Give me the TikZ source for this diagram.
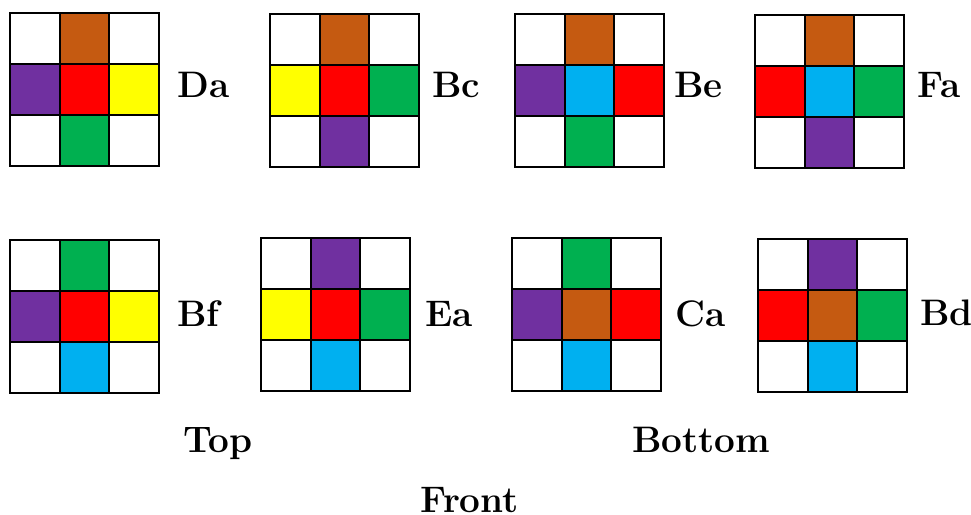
\documentclass[tikz,border=0pt]{standalone}
\usepackage{tikz}
\definecolor{cbrown}{HTML}{C55A11}
\definecolor{cpurple}{HTML}{7030A0}
\definecolor{cred}{HTML}{FF0000}
\definecolor{cyellow}{HTML}{FFFF00}
\definecolor{cgreen}{HTML}{00B050}
\definecolor{cblue}{HTML}{00B0F0}

\begin{document}
\begin{tikzpicture}[scale=0.2]
\tikzstyle{every node}+=[inner sep=0pt, anchor=base west, font=\fontsize{21}{25}\selectfont\bfseries]
\tikzstyle{cell}=[draw=black, line width=1.1pt]
\useasboundingbox (0,0) rectangle (97.1,-51.4);
% Da
\begin{scope}[shift={(1,-1.3)}]
\foreach \i in {0,1,2} \foreach \j in {0,1,2} \draw [cell,fill=white] (\i*4.97,-\j*5.1) rectangle ++(4.97,-5.1);
\draw [cell,fill=cbrown] (4.97,0) rectangle ++(4.97,-5.1);
\draw [cell,fill=cpurple] (0,-5.1) rectangle ++(4.97,-5.1);
\draw [cell,fill=cred] (4.97,-5.1) rectangle ++(4.97,-5.1);
\draw [cell,fill=cyellow] (9.94,-5.1) rectangle ++(4.97,-5.1);
\draw [cell,fill=cgreen] (4.97,-10.2) rectangle ++(4.97,-5.1);
\end{scope}
\node (da) at (17.7,-9.7) {Da};
% Bc
\begin{scope}[shift={(27,-1.4)}]
\foreach \i in {0,1,2} \foreach \j in {0,1,2} \draw [cell,fill=white] (\i*4.97,-\j*5.1) rectangle ++(4.97,-5.1);
\draw [cell,fill=cbrown] (4.97,0) rectangle ++(4.97,-5.1);
\draw [cell,fill=cyellow] (0,-5.1) rectangle ++(4.97,-5.1);
\draw [cell,fill=cred] (4.97,-5.1) rectangle ++(4.97,-5.1);
\draw [cell,fill=cgreen] (9.94,-5.1) rectangle ++(4.97,-5.1);
\draw [cell,fill=cpurple] (4.97,-10.2) rectangle ++(4.97,-5.1);
\end{scope}
\node (bc) at (43.2,-9.7) {Bc};
% Be
\begin{scope}[shift={(51.5,-1.4)}]
\foreach \i in {0,1,2} \foreach \j in {0,1,2} \draw [cell,fill=white] (\i*4.97,-\j*5.1) rectangle ++(4.97,-5.1);
\draw [cell,fill=cbrown] (4.97,0) rectangle ++(4.97,-5.1);
\draw [cell,fill=cpurple] (0,-5.1) rectangle ++(4.97,-5.1);
\draw [cell,fill=cblue] (4.97,-5.1) rectangle ++(4.97,-5.1);
\draw [cell,fill=cred] (9.94,-5.1) rectangle ++(4.97,-5.1);
\draw [cell,fill=cgreen] (4.97,-10.2) rectangle ++(4.97,-5.1);
\end{scope}
\node (be) at (67.4,-9.7) {Be};
% Fa
\begin{scope}[shift={(75.5,-1.5)}]
\foreach \i in {0,1,2} \foreach \j in {0,1,2} \draw [cell,fill=white] (\i*4.97,-\j*5.1) rectangle ++(4.97,-5.1);
\draw [cell,fill=cbrown] (4.97,0) rectangle ++(4.97,-5.1);
\draw [cell,fill=cred] (0,-5.1) rectangle ++(4.97,-5.1);
\draw [cell,fill=cblue] (4.97,-5.1) rectangle ++(4.97,-5.1);
\draw [cell,fill=cgreen] (9.94,-5.1) rectangle ++(4.97,-5.1);
\draw [cell,fill=cpurple] (4.97,-10.2) rectangle ++(4.97,-5.1);
\end{scope}
\node (fa) at (91.7,-9.7) {Fa};
% Bf
\begin{scope}[shift={(1,-24)}]
\foreach \i in {0,1,2} \foreach \j in {0,1,2} \draw [cell,fill=white] (\i*4.97,-\j*5.1) rectangle ++(4.97,-5.1);
\draw [cell,fill=cgreen] (4.97,0) rectangle ++(4.97,-5.1);
\draw [cell,fill=cpurple] (0,-5.1) rectangle ++(4.97,-5.1);
\draw [cell,fill=cred] (4.97,-5.1) rectangle ++(4.97,-5.1);
\draw [cell,fill=cyellow] (9.94,-5.1) rectangle ++(4.97,-5.1);
\draw [cell,fill=cblue] (4.97,-10.2) rectangle ++(4.97,-5.1);
\end{scope}
\node (bf) at (17.7,-32.6) {Bf};
% Ea
\begin{scope}[shift={(26.1,-23.8)}]
\foreach \i in {0,1,2} \foreach \j in {0,1,2} \draw [cell,fill=white] (\i*4.97,-\j*5.1) rectangle ++(4.97,-5.1);
\draw [cell,fill=cpurple] (4.97,0) rectangle ++(4.97,-5.1);
\draw [cell,fill=cyellow] (0,-5.1) rectangle ++(4.97,-5.1);
\draw [cell,fill=cred] (4.97,-5.1) rectangle ++(4.97,-5.1);
\draw [cell,fill=cgreen] (9.94,-5.1) rectangle ++(4.97,-5.1);
\draw [cell,fill=cblue] (4.97,-10.2) rectangle ++(4.97,-5.1);
\end{scope}
\node (ea) at (42.5,-32.6) {Ea};
% Ca
\begin{scope}[shift={(51.2,-23.8)}]
\foreach \i in {0,1,2} \foreach \j in {0,1,2} \draw [cell,fill=white] (\i*4.97,-\j*5.1) rectangle ++(4.97,-5.1);
\draw [cell,fill=cgreen] (4.97,0) rectangle ++(4.97,-5.1);
\draw [cell,fill=cpurple] (0,-5.1) rectangle ++(4.97,-5.1);
\draw [cell,fill=cbrown] (4.97,-5.1) rectangle ++(4.97,-5.1);
\draw [cell,fill=cred] (9.94,-5.1) rectangle ++(4.97,-5.1);
\draw [cell,fill=cblue] (4.97,-10.2) rectangle ++(4.97,-5.1);
\end{scope}
\node (ca) at (67.5,-32.6) {Ca};
% Bd
\begin{scope}[shift={(75.8,-23.9)}]
\foreach \i in {0,1,2} \foreach \j in {0,1,2} \draw [cell,fill=white] (\i*4.97,-\j*5.1) rectangle ++(4.97,-5.1);
\draw [cell,fill=cpurple] (4.97,0) rectangle ++(4.97,-5.1);
\draw [cell,fill=cred] (0,-5.1) rectangle ++(4.97,-5.1);
\draw [cell,fill=cbrown] (4.97,-5.1) rectangle ++(4.97,-5.1);
\draw [cell,fill=cgreen] (9.94,-5.1) rectangle ++(4.97,-5.1);
\draw [cell,fill=cblue] (4.97,-10.2) rectangle ++(4.97,-5.1);
\end{scope}
\node (bd) at (92,-32.5) {Bd};
% captions
\node (top) at (18.3,-45.2) {Top};
\node (bottom) at (63.2,-45.2) {Bottom};
\node (front) at (42,-51.2) {Front};
\end{tikzpicture}
\end{document}
